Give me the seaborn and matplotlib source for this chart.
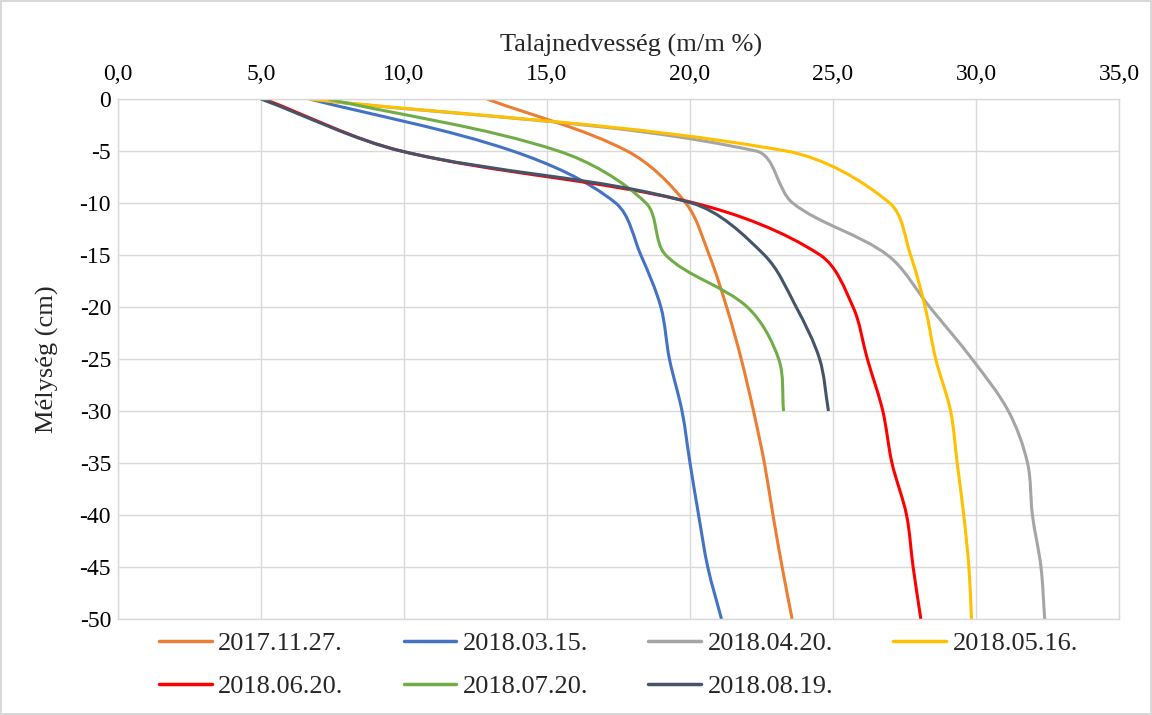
import numpy as np
import pandas as pd
import matplotlib
matplotlib.use("Agg")
import matplotlib.pyplot as plt
from matplotlib.path import Path
from matplotlib.patches import PathPatch
from matplotlib.ticker import FuncFormatter, MultipleLocator
import seaborn as sns

# depths (cm)
depth_full = [0, -5, -10, -15, -20, -25, -30, -35, -40, -45, -50]
depth_short = [0, -5, -10, -15, -20, -25, -30]

# soil moisture (m/m %) per sampling date
m_20171127 = [12.9, 17.8, 19.85, 20.67, 21.28, 21.79, 22.22, 22.6, 22.9, 23.22, 23.57]
m_20180315 = [6.7, 13.8, 17.4, 18.28, 18.98, 19.28, 19.72, 20.0, 20.3, 20.62, 21.1]
m_20180420 = [6.7, 22.31, 23.59, 26.9, 28.38, 29.86, 31.13, 31.8, 31.97, 32.27, 32.4]
m_20180516 = [6.7, 23.36, 26.98, 27.71, 28.22, 28.59, 29.11, 29.34, 29.57, 29.75, 29.84]
m_20180620 = [5.1, 9.9, 20.15, 24.55, 25.7, 26.2, 26.74, 27.06, 27.57, 27.8, 28.07]
m_20180720 = [7.35, 15.4, 18.46, 19.15, 22.0, 23.1, 23.27]
m_20180819 = [5.0, 9.9, 20.05, 22.6, 23.71, 24.53, 24.84]

dates = ["2017.11.27.", "2018.03.15.", "2018.04.20.", "2018.05.16.",
         "2018.06.20.", "2018.07.20.", "2018.08.19."]
series = [m_20171127, m_20180315, m_20180420, m_20180516,
          m_20180620, m_20180720, m_20180819]
colors = ["#ED7D31", "#4472C4", "#A5A5A5", "#FFC000",
          "#FF0000", "#70AD47", "#44546A"]

rows = []
for d, vals in zip(dates, series):
    depths = depth_full if len(vals) == len(depth_full) else depth_short
    for v, z in zip(vals, depths):
        rows.append({"date": d, "moisture": v, "depth": z})
df = pd.DataFrame(rows)


def smooth_path(xs, ys, sx=28.6, sy=10.4):
    # Excel-like smoothed line: cubic Bezier, tangents weighted by segment length
    p = np.column_stack([xs, ys]).astype(float)
    n = len(p)
    scr = p * [sx, sy]
    seg = np.hypot(*np.diff(scr, axis=0).T)
    tang = np.empty_like(p)
    tang[0] = p[1] - p[0]
    tang[-1] = p[-1] - p[-2]
    tang[1:-1] = p[2:] - p[:-2]
    verts = [p[0]]
    codes = [Path.MOVETO]
    for i in range(n - 1):
        d_prev = seg[i - 1] if i > 0 else 0.0
        d_cur = seg[i]
        d_next = seg[i + 1] if i + 2 < n else 0.0
        c1 = p[i] + tang[i] * d_cur / (d_prev + d_cur) / 3
        c2 = p[i + 1] - tang[i + 1] * d_cur / (d_cur + d_next) / 3
        verts += [c1, c2, p[i + 1]]
        codes += [Path.CURVE4] * 3
    return Path(verts, codes)


sns.set_theme(style="whitegrid")
plt.rcParams["font.family"] = ["Liberation Serif", "DejaVu Serif"]

fig, ax = plt.subplots(figsize=(11.52, 7.15), dpi=100)
fig.subplots_adjust(left=0.1024, right=0.9714, top=0.8615, bottom=0.1343)

sns.lineplot(data=df, x="moisture", y="depth", hue="date", hue_order=dates,
             palette=colors, sort=False, estimator=None, linewidth=2.2, ax=ax)

# legend below the plot, filled row by row
leg = ax.get_legend()
handles = leg.legend_handles
labels = [t.get_text() for t in leg.get_texts()]
leg.remove()
order = [0, 4, 1, 5, 2, 6, 3]
new_leg = ax.legend([handles[i] for i in order], [labels[i] for i in order],
                    loc="center", bbox_to_anchor=(0.5, -0.088), ncol=4,
                    frameon=False, fontsize=19, handlelength=2.0,
                    handletextpad=0.25, columnspacing=2.27, labelspacing=0.75)
for h in new_leg.legend_handles:
    h.set_linewidth(2.5)

# replace straight segments by smoothed curves
for line, color in zip(list(ax.lines), colors):
    xs, ys = line.get_xdata(), line.get_ydata()
    line.set_visible(False)
    ax.add_patch(PathPatch(smooth_path(xs, ys), fill=False, edgecolor=color,
                           linewidth=2.2, capstyle="butt", joinstyle="round"))

ax.set_xlim(0, 35)
ax.set_ylim(-50, 0)
ax.xaxis.set_major_locator(MultipleLocator(5))
ax.yaxis.set_major_locator(MultipleLocator(5))
ax.xaxis.set_major_formatter(FuncFormatter(lambda v, _: f"{v:.1f}".replace(".", ",")))
ax.yaxis.set_major_formatter(FuncFormatter(lambda v, _: f"{v:.0f}"))
ax.xaxis.tick_top()
ax.xaxis.set_label_position("top")
ax.tick_params(axis="both", length=0, labelsize=17, colors="black")
ax.tick_params(axis="x", pad=10)
ax.tick_params(axis="y", pad=5)

ax.set_xlabel("Talajnedvesség (m/m %)", fontsize=19, labelpad=9)
ax.xaxis.label.set_x(0.513)
ax.set_ylabel("Mélység (cm)", fontsize=19, labelpad=15)

ax.grid(True, color="#d9d9d9", linewidth=1)
for s in ax.spines.values():
    s.set_color("#d9d9d9")
    s.set_linewidth(1)
ax.set_facecolor("white")

fig.patch.set_edgecolor("#d9d9d9")
fig.patch.set_linewidth(1.5)

fig.savefig("out.png", dpi=100)
